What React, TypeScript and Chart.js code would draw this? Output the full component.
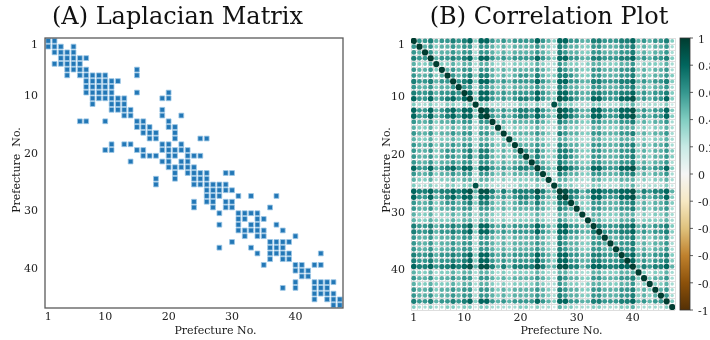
import React, { useEffect, useRef } from "react";
import { Chart, registerables } from "chart.js";

Chart.register(...registerables);

// ---------- data ----------
const N = 47;
const tickValues = [1, 10, 20, 30, 40];
const colorbarTicks = [-1, -0.8, -0.6, -0.4, -0.2, 0, 0.2, 0.4, 0.6, 0.8, 1];

// Laplacian non-zero pattern: neighbours of each prefecture (1-based), diagonal added
const neighbors: number[][] = [
  [2],
  [1, 3, 5],
  [2, 4, 5],
  [3, 5, 6, 7],
  [2, 3, 4, 6],
  [4, 5, 7, 15],
  [4, 6, 8, 9, 10, 15],
  [7, 9, 10, 11, 12],
  [7, 8, 10, 11],
  [7, 8, 9, 11, 15, 20],
  [8, 9, 10, 12, 13, 19, 20],
  [8, 11, 13],
  [11, 12, 14, 19],
  [13, 19, 22],
  [6, 7, 10, 16, 20],
  [15, 17, 20, 21],
  [16, 18, 21],
  [17, 21, 25, 26],
  [11, 13, 14, 20, 22],
  [10, 11, 15, 16, 19, 21, 22, 23],
  [16, 17, 18, 20, 23, 24, 25],
  [14, 19, 20, 23],
  [20, 21, 22, 24],
  [21, 23, 25, 26, 29, 30],
  [18, 21, 24, 26],
  [18, 24, 25, 27, 28, 29],
  [26, 28, 29, 30],
  [26, 27, 31, 33, 37],
  [24, 26, 27, 30],
  [24, 27, 29, 36],
  [28, 32, 33, 34],
  [31, 34, 35],
  [28, 31, 34, 37],
  [31, 32, 33, 35, 38],
  [32, 34, 40],
  [30, 37, 38, 39],
  [28, 33, 36, 38],
  [34, 36, 37, 39, 44],
  [36, 38],
  [35, 41, 43, 44],
  [40, 42],
  [41],
  [40, 44, 45, 46],
  [38, 40, 43, 45],
  [43, 44, 46],
  [43, 45, 47],
  [46],
];

// Correlation matrix, one string per row: digit d = d/10, X = 1
const corrRows: string[] = [
  "X6675667678488656566668654886655776667785656674",
  "6X564556566366545455556543765544665556674545563",
  "65X64556566366545455556543765544665556674545563",
  "766X5667678488656566668654886655776667785656674",
  "5445X445455355434344445433654434554445563444453",
  "65564X56566366545455556543765544665556674545563",
  "655645X6567477545456657544776544665556674545564",
  "7667566X678488656566668654886655776667785656674",
  "65564556X66366545455556543765544665556674545563",
  "766756676X8488656566668654886655776667785656674",
  "8668567868X488656567768654987655886668895656684",
  "43343344344X44333334434339544333443334453333342",
  "866856786884X9656567768654987655886668895656684",
  "8668567868849X656567768654987655886668895656684",
  "65564556566366X45455556543765544665556674545563",
  "544534454553554X4344445433554433554445553434453",
  "6556455656636654X455556543765544665556674545563",
  "54453445455355434X44445433554433554445553434453",
  "655645565663665454X5556543765544665556674545563",
  "6556456656747754545X657544776544665556674545564",
  "65564566567477545456X57544776544665556674545564",
  "655645565663665454555X6543765544665556674545563",
  "8668567868848865656776X654987655886668895656684",
  "65564556566366545455556X43765544665556674545563",
  "544534454553554343444454X3554433554445553434453",
  "4334334434494433333443433X544333443334453333342",
  "87786778789599757577779755X97756887778895767785",
  "866856786884886565677686549X7655886668895656684",
  "6556456656747754545665754477X544665556674545564",
  "65564556566366545455556543765X44665556674545563",
  "544534454553554343444454335544X3554445553434453",
  "5445444545535543434444543365443X554445563444453",
  "76675667678488656566668654886655X76667785656674",
  "766756676784886565666686548866557X6667785656674",
  "6556455656636654545555654376554466X556674545563",
  "65564556566366545455556543765544665X56674545563",
  "655645565663665454555565437655446655X6674545563",
  "7667566767848865656666865488665577666X785656674",
  "76675667678488656566668654886655776667X85656674",
  "877867787895997575777797559977568877788X5767785",
  "5445344545535543434444543355443355444555X434453",
  "65564556566366545455556543765544665556674X45563",
  "544544454553554343444454336544345544455634X4453",
  "6556455656636654545555654376554466555667454X563",
  "65564556566366545455556543765544665556674545X63",
  "766756676784886565666686548866557766677856566X4",
  "4334334434424433333443433254433344333445333334X",
];

// BrBG colour map stops
const brbgStops: [number, string][] = [
  [-1.0, "#543005"],
  [-0.8, "#8c510a"],
  [-0.6, "#bf812d"],
  [-0.4, "#dfc27d"],
  [-0.2, "#f6e8c3"],
  [0.0, "#f5f5f5"],
  [0.2, "#c7eae5"],
  [0.4, "#80cdc1"],
  [0.6, "#35978f"],
  [0.8, "#01665e"],
  [1.0, "#003c30"],
];

// ---------- helpers ----------
const SERIF = "'DejaVu Serif', serif";

function hexToRgb(h: string) {
  const n = parseInt(h.slice(1), 16);
  return [(n >> 16) & 255, (n >> 8) & 255, n & 255];
}
function brbg(v: number): string {
  const t = Math.max(-1, Math.min(1, v));
  for (let k = 0; k < brbgStops.length - 1; k++) {
    const [a, ca] = brbgStops[k];
    const [b, cb] = brbgStops[k + 1];
    if (t >= a && t <= b) {
      const f = (t - a) / (b - a);
      const A = hexToRgb(ca);
      const B = hexToRgb(cb);
      const c = A.map((x, i) => Math.round(x + (B[i] - x) * f));
      return `rgb(${c[0]},${c[1]},${c[2]})`;
    }
  }
  return brbgStops[brbgStops.length - 1][1];
}
function decode(ch: string): number {
  return ch === "X" ? 1 : parseInt(ch, 10) / 10;
}

type TextItem = { text: string; x: number; y: number; font: string; rot?: number; color?: string };
function textPlugin(items: TextItem[]) {
  return {
    id: "fixedText",
    afterDraw(chart: any) {
      const ctx = chart.ctx;
      items.forEach((it) => {
        ctx.save();
        ctx.font = it.font;
        ctx.fillStyle = it.color || "#1a1a1a";
        ctx.textAlign = "center";
        ctx.textBaseline = "middle";
        ctx.translate(it.x, it.y);
        if (it.rot) ctx.rotate(it.rot);
        ctx.fillText(it.text, 0, 0);
        ctx.restore();
      });
    },
  };
}

const framePlugin = {
  id: "frame",
  afterDatasetsDraw(chart: any) {
    const { ctx, chartArea: a } = chart;
    ctx.save();
    ctx.strokeStyle = "#5a5a5a";
    ctx.lineWidth = 1.3;
    ctx.strokeRect(a.left, a.top, a.right - a.left, a.bottom - a.top);
    ctx.restore();
  },
};

const cellGridPlugin = {
  id: "cellGrid",
  beforeDatasetsDraw(chart: any) {
    const { ctx, chartArea: a, scales } = chart;
    ctx.save();
    ctx.strokeStyle = "#dedede";
    ctx.lineWidth = 1;
    for (let k = 0; k <= N; k++) {
      const px = Math.round(scales.x.getPixelForValue(k + 0.5)) + 0.5;
      const py = Math.round(scales.y.getPixelForValue(k + 0.5)) + 0.5;
      ctx.beginPath();
      ctx.moveTo(px, a.top);
      ctx.lineTo(px, a.bottom);
      ctx.stroke();
      ctx.beginPath();
      ctx.moveTo(a.left, py);
      ctx.lineTo(a.right, py);
      ctx.stroke();
    }
    ctx.restore();
  },
};

const colorbarPlugin = {
  id: "colorbar",
  afterDraw(chart: any) {
    const { ctx, chartArea: a } = chart;
    const cb = chart.scales.cb;
    const x0 = a.right + 5;
    const w = 10;
    const top = cb.getPixelForValue(1);
    const bot = cb.getPixelForValue(-1);
    const g = ctx.createLinearGradient(0, bot, 0, top);
    brbgStops.forEach(([v, c]) => g.addColorStop((v + 1) / 2, c));
    ctx.save();
    ctx.fillStyle = g;
    ctx.fillRect(x0, top, w, bot - top);
    ctx.strokeStyle = "#333";
    ctx.lineWidth = 0.8;
    ctx.strokeRect(x0, top, w, bot - top);
    colorbarTicks.forEach((v) => {
      const y = cb.getPixelForValue(v);
      ctx.beginPath();
      ctx.moveTo(x0 + w, y);
      ctx.lineTo(x0 + w + 3, y);
      ctx.stroke();
    });
    ctx.restore();
  },
};

const tickFont = { family: SERIF, size: 11 };

function setTicks(values: number[]) {
  return (scale: any) => {
    scale.ticks = values.map((v) => ({ value: v }));
  };
}

// ---------- charts ----------
function LaplacianChart() {
  const ref = useRef<HTMLCanvasElement | null>(null);
  useEffect(() => {
    if (!ref.current) return;
    const pts: { x: number; y: number }[] = [];
    neighbors.forEach((list, idx) => {
      const i = idx + 1;
      pts.push({ x: i, y: i });
      list.forEach((j) => pts.push({ x: j, y: i }));
    });
    const chart = new Chart(ref.current, {
      type: "scatter",
      data: {
        datasets: [
          {
            data: pts,
            pointStyle: "rect",
            pointRadius: 3.4,
            backgroundColor: "#2277b6",
            borderColor: "#9cc6e6",
            borderWidth: 0.8,
          },
        ],
      },
      options: {
        animation: false,
        responsive: false,
        devicePixelRatio: 1,
        layout: { padding: { top: 38, right: 12, left: 0, bottom: 0 } },
        plugins: { legend: { display: false }, tooltip: { enabled: false } },
        scales: {
          x: {
            type: "linear",
            min: 0.5,
            max: N + 0.5,
            afterBuildTicks: setTicks(tickValues),
            afterFit: (s: any) => {
              s.height = 32;
            },
            grid: { display: false, drawTicks: false },
            border: { display: false },
            ticks: { padding: 3, font: tickFont, color: "#222", maxRotation: 0, autoSkip: false },
          },
          y: {
            type: "linear",
            reverse: true,
            min: 0.5,
            max: N + 0.5,
            afterBuildTicks: setTicks(tickValues),
            afterFit: (s: any) => {
              s.width = 45;
            },
            grid: { display: false, drawTicks: false },
            border: { display: false },
            ticks: { padding: 7, labelOffset: 4, font: tickFont, color: "#222", autoSkip: false },
          },
        },
      },
      plugins: [
        framePlugin,
        textPlugin([
          { text: "(A) Laplacian Matrix", x: 177.5, y: 17.5, font: `24px ${SERIF}`, color: "#111" },
          { text: "Prefecture No.", x: 215.5, y: 331, font: `11px ${SERIF}` },
          { text: "Prefecture  No.", x: 17, y: 170, font: `11px ${SERIF}`, rot: -Math.PI / 2 },
        ]),
      ],
    });
    return () => chart.destroy();
  }, []);
  return (
    <canvas ref={ref} width={355} height={340} style={{ position: "absolute", left: 0, top: 0 }} />
  );
}

function CorrelationChart() {
  const ref = useRef<HTMLCanvasElement | null>(null);
  useEffect(() => {
    if (!ref.current) return;
    const pts: { x: number; y: number; v: number }[] = [];
    corrRows.forEach((row, idx) => {
      for (let j = 0; j < row.length; j++) {
        pts.push({ x: j + 1, y: idx + 1, v: decode(row[j]) });
      }
    });
    const chart = new Chart(ref.current, {
      type: "scatter",
      data: {
        datasets: [
          {
            data: pts,
            yAxisID: "y",
            xAxisID: "x",
            pointStyle: "circle",
            pointRadius: (c: any) => (c.raw ? 3.1 * Math.sqrt(Math.abs(c.raw.v)) : 0),
            backgroundColor: (c: any) => (c.raw ? brbg(c.raw.v) : "#000"),
            borderWidth: 0,
          } as any,
        ],
      },
      options: {
        animation: false,
        responsive: false,
        devicePixelRatio: 1,
        layout: { padding: { top: 38, right: 0, left: 0, bottom: 0 } },
        plugins: { legend: { display: false }, tooltip: { enabled: false } },
        scales: {
          x: {
            type: "linear",
            min: 0.5,
            max: N + 0.5,
            afterBuildTicks: setTicks(tickValues),
            afterFit: (s: any) => {
              s.height = 30;
            },
            grid: { display: false, drawTicks: false },
            border: { display: false },
            ticks: { padding: 2, font: tickFont, color: "#222", maxRotation: 0, autoSkip: false },
          },
          y: {
            type: "linear",
            position: "left",
            reverse: true,
            min: 0.5,
            max: N + 0.5,
            afterBuildTicks: setTicks(tickValues),
            afterFit: (s: any) => {
              s.width = 56;
            },
            grid: { display: false, drawTicks: false },
            border: { display: false },
            ticks: { padding: 6, labelOffset: 4, font: tickFont, color: "#222", autoSkip: false },
          },
          cb: {
            type: "linear",
            position: "right",
            min: -1,
            max: 1,
            afterBuildTicks: setTicks(colorbarTicks),
            afterFit: (s: any) => {
              s.width = 35;
            },
            grid: { display: false, drawTicks: false },
            border: { display: false },
            ticks: {
              padding: 23,
              labelOffset: 2,
              font: tickFont,
              color: "#222",
              autoSkip: false,
              callback: (v: any) => String(Math.round(Number(v) * 10) / 10),
            },
          },
        },
      },
      plugins: [
        cellGridPlugin,
        colorbarPlugin,
        textPlugin([
          { text: "(B) Correlation Plot", x: 194, y: 17.5, font: `24px ${SERIF}`, color: "#111" },
          { text: "Prefecture No.", x: 206.5, y: 331.5, font: `11px ${SERIF}` },
          { text: "Prefecture  No.", x: 32, y: 170, font: `11px ${SERIF}`, rot: -Math.PI / 2 },
        ]),
      ],
    });
    return () => chart.destroy();
  }, []);
  return (
    <canvas ref={ref} width={355} height={340} style={{ position: "absolute", left: 355, top: 0 }} />
  );
}

export default function App() {
  return (
    <div
      style={{
        position: "fixed",
        left: 0,
        top: 0,
        width: 710,
        height: 340,
        overflow: "hidden",
        background: "#fff",
      }}
    >
      <LaplacianChart />
      <CorrelationChart />
    </div>
  );
}
